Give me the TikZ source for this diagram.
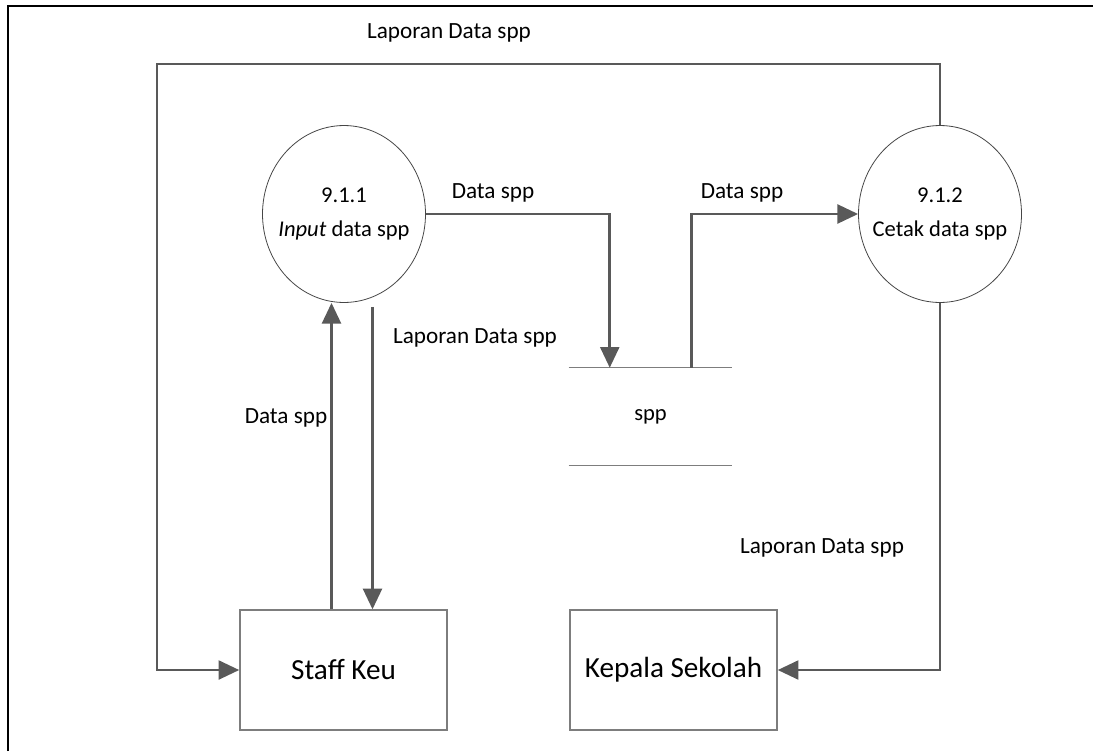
\documentclass[tikz,border=0pt]{standalone}
\usepackage{fontspec}
\setmainfont{Carlito}
\usetikzlibrary{shapes.geometric, arrows.meta, calc}
\definecolor{flowGray}{RGB}{89, 89, 89}
\definecolor{boxGray}{RGB}{125, 125, 125}
\definecolor{procGray}{RGB}{70, 70, 70}
\tikzset{
  process/.style={
    ellipse,
    draw=procGray,
    line width=0.6pt,
    fill=white,
    minimum width=4.32cm,
    minimum height=4.69cm,
    inner sep=-8pt,
    align=center,
    font=\fontsize{17}{25}\selectfont
  },
  entity/.style={
    rectangle,
    draw=boxGray,
    line width=1pt,
    minimum width=5.49cm,
    minimum height=3.18cm,
    inner sep=0pt,
    font=\fontsize{22}{26}\selectfont
  },
  datastore/.style={
    rectangle,
    minimum width=4.32cm,
    minimum height=2.57cm,
    inner sep=0pt,
    font=\fontsize{17}{20}\selectfont
  },
  storeline/.style={
    draw=boxGray,
    line width=1pt
  },
  flow/.style={
    -{Triangle[length=5.5mm, width=5mm]},
    line width=2.2pt,
    draw=flowGray
  },
  flowlabel/.style={
    inner sep=0pt,
    font=\fontsize{17.5}{21}\selectfont
  }
}

\begin{document}
\begin{tikzpicture}[x=0.0265cm, y=-0.0265cm]
      \useasboundingbox (0,0) rectangle (1093,751);
      % frame
      \draw[line width=2.2pt] (8,751) -- (8,6) -- (1093,6);

      % processes
      \node[process] (in1) at (344,214) {9.1.1\\\textit{Input} data spp};
      \node[process] (out2) at (940,214) {9.1.2\\Cetak data spp};

      % data store
      \node[datastore] (store) at (650.5,416.5) {spp};
      \draw[storeline] (store.north west) -- (store.north east);
      \draw[storeline] (store.south west) -- (store.south east);

      % external entities
      \node[entity] (staff) at (343.5,670) {Staff Keu};
      \node[entity] (kepala) at (673.5,670) {Kepala Sekolah};

      % flows
      \coordinate (s1) at ($(staff.north)+(-12,0)$);
      \coordinate (s2) at ($(staff.north)+(29,0)$);
      \coordinate (loopL) at (157,64);
      \draw[flow] (in1.east) -| ($(store.north west)+(41,0)$);
      \draw[flow] ($(store.north west)+(123,0)$) |- (out2.west);
      \draw[flow] (s1) -- (s1 |- in1.south);
      \draw[flow] ($(s2 |- in1.south)+(0,4)$) -- (s2);
      \draw[flow] (out2.north) |- (loopL) |- (staff.west);
      \draw[flow] (out2.south) |- (kepala.east);

      % labels
      \node[flowlabel] (lblTop) at (449,33) {Laporan Data spp};
      \node[flowlabel] (lblIn) at (493,193) {Data spp};
      \node[flowlabel] (lblOut) at (742,193) {Data spp};
      \node[flowlabel] (lblMid) at (475,338) {Laporan Data spp};
      \node[flowlabel] (lblStaff) at (286,418) {Data spp};
      \node[flowlabel] (lblKepala) at (822,548) {Laporan Data spp};
    \end{tikzpicture}
\end{document}
